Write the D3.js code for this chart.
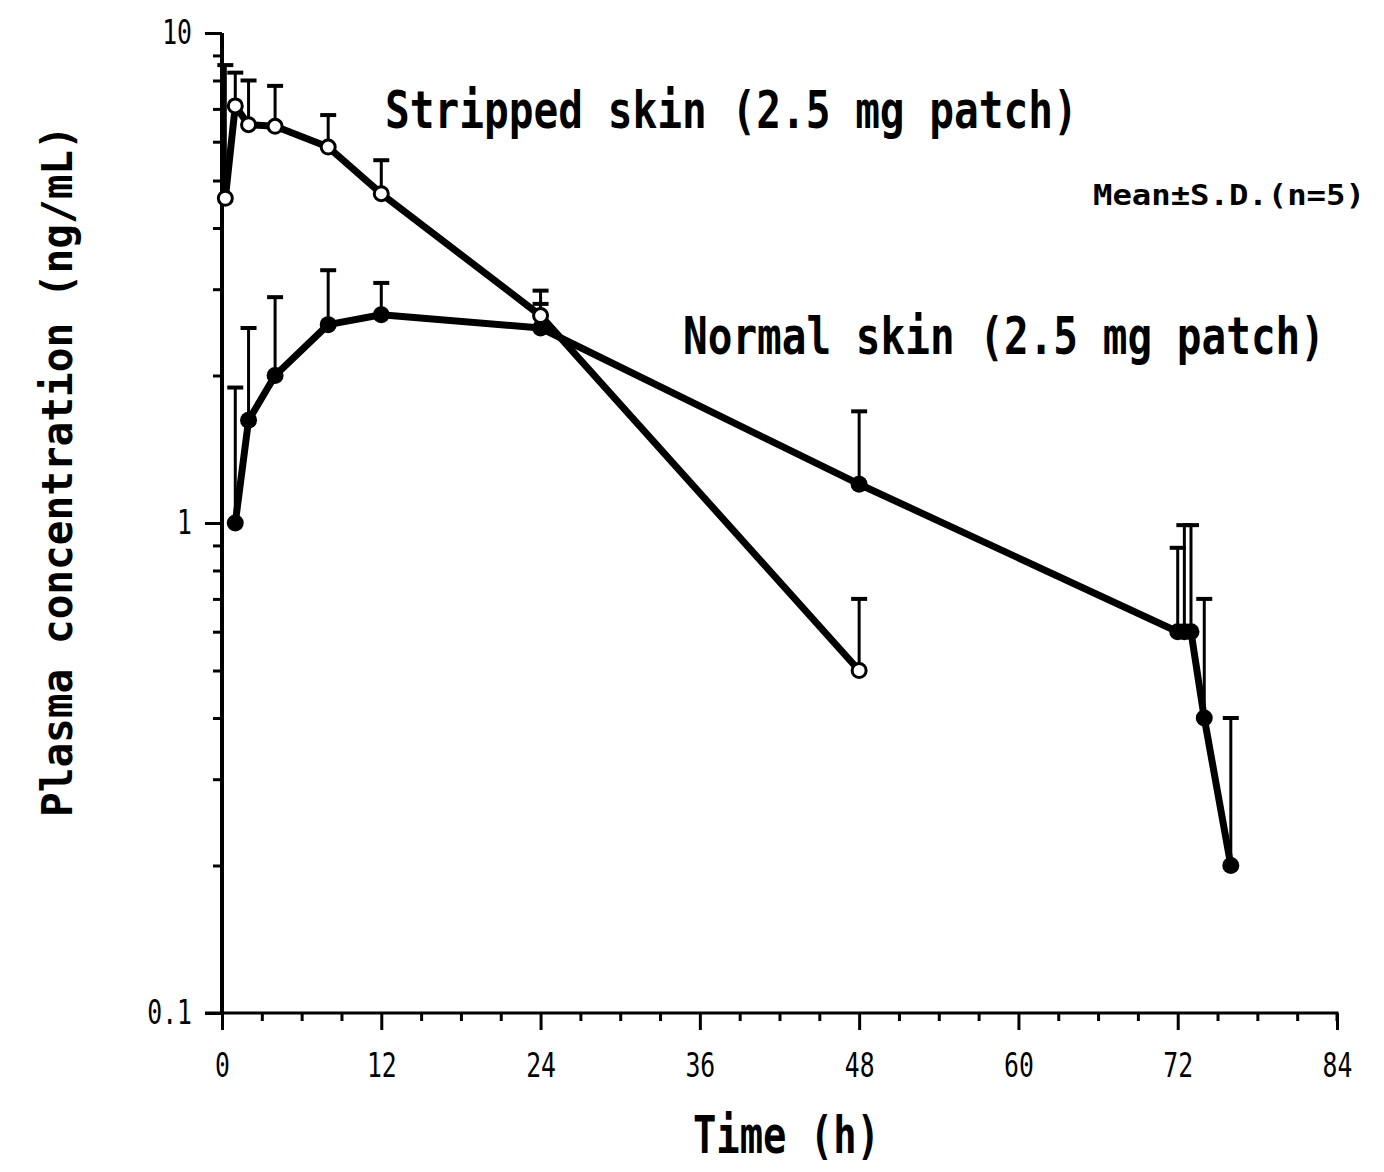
<!DOCTYPE html>
<html>
<head>
<meta charset="utf-8">
<script src="https://cdn.jsdelivr.net/npm/d3@7"></script>
<style>
  html, body { margin: 0; padding: 0; background: #fff; }
  svg { display: block; }
</style>
</head>
<body>
<svg id="chart" width="1384" height="1172"></svg>
<script>
// Plasma concentration–time profiles after 2.5 mg patch application (mean + S.D., n=5)

// Stripped skin: sampling times (h), mean and mean+S.D. (ng/mL)
const strippedTime  = [0.25, 1, 2, 4, 8, 12, 24, 48];
const strippedMean  = [4.6, 7.1, 6.5, 6.45, 5.85, 4.7, 2.65, 0.5];
const strippedUpper = [8.6, 8.3, 8.0, 7.8, 6.8, 5.5, 2.98, 0.70];

// Normal skin: sampling times (h), mean and mean+S.D. (ng/mL)
const normalTime  = [1, 2, 4, 8, 12, 24, 48, 72, 72.5, 73, 74, 76];
const normalMean  = [1.0, 1.62, 2.0, 2.54, 2.66, 2.5, 1.2, 0.6, 0.6, 0.6, 0.4, 0.2];
const normalUpper = [1.89, 2.5, 2.89, 3.28, 3.09, 2.8, 1.69, 0.89, 0.99, 0.99, 0.70, 0.40];

// Axis ticks
const xMajorTicks = [0, 12, 24, 36, 48, 60, 72, 84];
const xMinorTicks = d3.range(0, 85, 3).filter(t => t % 12 !== 0);
const yMajorTicks = [0.1, 1, 10];
const yMajorLabels = ["0.1", "1", "10"];
const yMinorTicks = [0.2, 0.3, 0.4, 0.5, 0.6, 0.7, 0.8, 0.9, 2, 3, 4, 5, 6, 7, 8, 9];

const svg = d3.select("#chart");
svg.append("rect").attr("width", 1384).attr("height", 1172).attr("fill", "#fff");

const x = d3.scaleLinear().domain([0, 84]).range([222, 1337]);
const y = d3.scaleLog().domain([0.1, 10]).range([1013, 33]).clamp(true);

const MONO = "'DejaVu Sans Mono', 'Liberation Mono', monospace";
const labelScale = 0.75;

// ---- x axis ----
const xMinor = d3.axisBottom(x).tickValues(xMinorTicks).tickSize(8).tickFormat("");
const xMajor = d3.axisBottom(x).tickValues(xMajorTicks).tickSize(17).tickPadding(24)
  .tickFormat(d3.format("d"));

svg.append("g").attr("transform", "translate(0,1013)").call(xMinor)
  .call(g => g.select(".domain").remove())
  .call(g => g.selectAll(".tick line").attr("stroke", "#000").attr("stroke-width", 3));

svg.append("g").attr("transform", "translate(0,1013)").call(xMajor)
  .call(g => g.select(".domain").attr("stroke", "#000").attr("stroke-width", 3)
    .attr("d", `M${x(0) - 17},0H${x(84)}V8`))
  .call(g => g.selectAll(".tick line").attr("stroke", "#000").attr("stroke-width", 3))
  .call(g => g.selectAll(".tick text")
    .attr("fill", "#000").attr("font-family", MONO).attr("font-size", 33)
    .attr("transform", `scale(${labelScale},1)`));

// ---- y axis ----
const yMinor = d3.axisLeft(y).tickValues(yMinorTicks).tickSize(9).tickFormat("");
const yMajor = d3.axisLeft(y).tickValues(yMajorTicks).tickSize(17)
  .tickFormat((d, i) => yMajorLabels[i]);

svg.append("g").attr("transform", "translate(222,0)").call(yMinor)
  .call(g => g.select(".domain").remove())
  .call(g => g.selectAll(".tick line").attr("stroke", "#000").attr("stroke-width", 3));

svg.append("g").attr("transform", "translate(222,0)").call(yMajor)
  .call(g => g.select(".domain").attr("stroke", "#000").attr("stroke-width", 4)
    .attr("d", `M0,${y(10)}V${y(0.1)}`))
  .call(g => g.selectAll(".tick line").attr("stroke", "#000").attr("stroke-width", 3))
  .call(g => g.selectAll(".tick text")
    .attr("fill", "#000").attr("font-family", MONO).attr("font-size", 33)
    .attr("x", -30 / labelScale)
    .attr("transform", `scale(${labelScale},1)`));

// ---- series ----
const strippedPts = strippedTime.map((t, i) => ({ t, m: strippedMean[i], u: strippedUpper[i] }));
const normalPts = normalTime.map((t, i) => ({ t, m: normalMean[i], u: normalUpper[i] }));

const plot = svg.append("g");

function errorBars(pts) {
  const g = plot.append("g").attr("stroke", "#000");
  g.selectAll("line.stem").data(pts).join("line").attr("class", "stem")
    .attr("x1", d => x(d.t)).attr("x2", d => x(d.t))
    .attr("y1", d => y(d.m)).attr("y2", d => y(d.u))
    .attr("stroke-width", 3);
  g.selectAll("line.cap").data(pts).join("line").attr("class", "cap")
    .attr("x1", d => x(d.t) - 8).attr("x2", d => x(d.t) + 8)
    .attr("y1", d => y(d.u)).attr("y2", d => y(d.u))
    .attr("stroke-width", 4);
}
errorBars(normalPts);
errorBars(strippedPts);

const line = d3.line().x(d => x(d.t)).y(d => y(d.m));

plot.append("path").datum(normalPts).attr("d", line)
  .attr("fill", "none").attr("stroke", "#000").attr("stroke-width", 7)
  .attr("stroke-linejoin", "round");
plot.append("path").datum(strippedPts).attr("d", line)
  .attr("fill", "none").attr("stroke", "#000").attr("stroke-width", 7)
  .attr("stroke-linejoin", "round");

plot.append("g").selectAll("circle").data(normalPts).join("circle")
  .attr("cx", d => x(d.t)).attr("cy", d => y(d.m)).attr("r", 8.5)
  .attr("fill", "#000");
plot.append("g").selectAll("circle").data(strippedPts).join("circle")
  .attr("cx", d => x(d.t)).attr("cy", d => y(d.m)).attr("r", 7)
  .attr("fill", "#fff").attr("stroke", "#000").attr("stroke-width", 3);

// ---- text ----
// Monospace label sized so its natural width spans `width`; glyphs are then
// stretched vertically to reach the wanted cap height.
function label(str, xPos, yPos, width, capHeight, opts = {}) {
  const t = svg.append("text")
    .attr("x", 0).attr("y", 0)
    .attr("font-family", MONO).attr("font-size", 40)
    .attr("font-weight", opts.weight || "bold")
    .attr("fill", "#000")
    .text(str);
  const natural = t.node().getComputedTextLength();
  const size = 40 * width / natural;
  t.attr("font-size", size);
  const sy = capHeight / (0.73 * size);
  const rot = opts.rotate ? ` rotate(${opts.rotate})` : "";
  t.attr("transform", `translate(${xPos},${yPos})${rot} scale(1,${sy})`);
  return t;
}

label("Stripped skin (2.5 mg patch)", 385, 128, 693, 38);
label("Normal skin (2.5 mg patch)", 683, 354, 642, 38);
label("Mean±S.D.(n=5)", 1093, 205, 272, 21);
label("Time (h)", 693, 1153, 187, 38);
label("Plasma concentration (ng/mL)", 72, 817, 692, 31, { rotate: -90 });
</script>
</body>
</html>
